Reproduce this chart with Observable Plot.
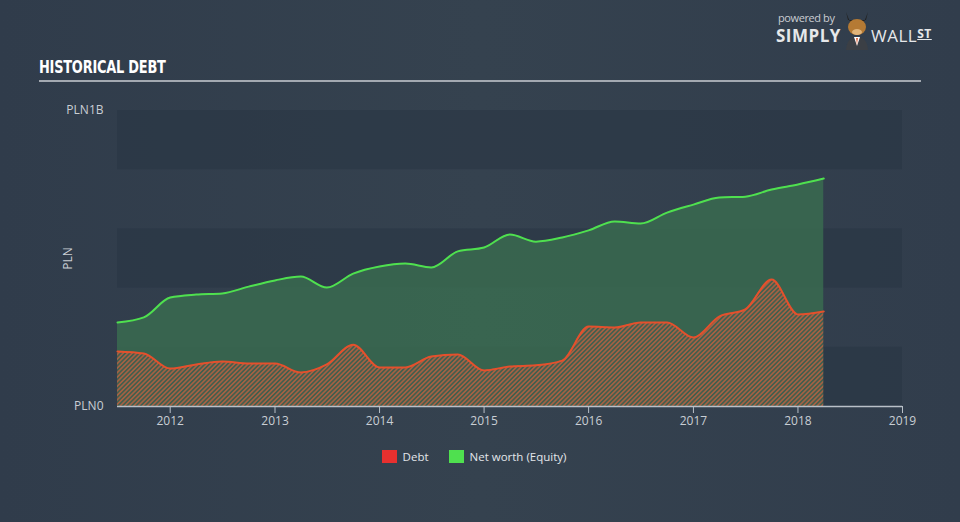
<!DOCTYPE html>
<html>
<head>
<meta charset="utf-8">
<script src="https://cdn.jsdelivr.net/npm/d3@7"></script>
<script src="https://cdn.jsdelivr.net/npm/@observablehq/plot@0.6"></script>
<style>
  html, body { margin: 0; padding: 0; }
  body {
    width: 960px; height: 522px; overflow: hidden;
    background: linear-gradient(90deg, #303c4b 0%, #35424f 50%, #313d4c 100%);
    font-family: "Open Sans", "DejaVu Sans", sans-serif;
    position: relative;
  }
  #header { position: relative; height: 95px; }
  #title {
    position: absolute; left: 39px; top: 56px;
    font-family: "Liberation Sans Narrow", "DejaVu Sans Condensed", sans-serif;
    font-weight: bold; font-size: 18px; color: #ffffff; letter-spacing: -0.3px;
    transform: scaleX(0.8); transform-origin: left;
  }
  #rule { position: absolute; left: 39px; top: 80px; width: 882px; height: 2px; background: #a3a9b1; }
  #logo { position: absolute; left: 776px; top: 10px; color: #e6e8ea; }
  #logo .pb { position: absolute; left: 2px; top: 0px; font-size: 11px; color: #c9cdd2; letter-spacing: -0.4px; white-space: nowrap; }
  #logo .simply { position: absolute; left: 0px; top: 14px; font-size: 17px; font-weight: bold; letter-spacing: 0.5px; }
  #logo .wall { position: absolute; left: 95px; top: 14px; font-size: 17px; letter-spacing: 0.5px; white-space: nowrap; }
  #logo .wall span { font-size: 12px; font-weight: bold; text-decoration: underline; vertical-align: 4px; }
  #logo svg { position: absolute; left: 66px; top: 0px; }
  #chart { position: relative; }
  #legend {
    position: absolute; top: 449px; left: -6px; width: 960px;
    display: flex; justify-content: center; gap: 20px;
    font-size: 11.5px; color: #e3e6ea;
  }
  #legend .item { display: flex; align-items: center; gap: 6px; }
  #legend .sw { width: 15px; height: 13px; display: inline-block; }
</style>
</head>
<body>
<div id="header">
  <div id="logo">
    <div class="pb">powered by</div>
    <div class="simply">SIMPLY</div>
    <svg width="30" height="40" viewBox="0 0 30 40">
      <path d="M4 2 L8 12 L22 12 L26 2 L24 10 L6 10 Z" fill="#222"/>
      <ellipse cx="15" cy="17" rx="9" ry="8" fill="#b57a34"/>
      <ellipse cx="15" cy="22" rx="5" ry="3" fill="#e0b47a"/>
      <path d="M4 40 Q5 27 15 27 Q25 27 26 40 Z" fill="#3b3f45"/>
      <path d="M12 27 L15 36 L18 27 Z" fill="#fff"/>
      <path d="M14.2 28 L15 35 L15.8 28 Z" fill="#d84a1b"/>
    </svg>
    <div class="wall">WALL<span>ST</span></div>
  </div>
  <div id="title">HISTORICAL DEBT</div>
  <div id="rule"></div>
</div>
<div id="chart"></div>
<div id="legend">
  <div class="item"><span class="sw" style="background:#e8302f"></span>Debt</div>
  <div class="item"><span class="sw" style="background:#4fe04f"></span>Net worth (Equity)</div>
</div>
<script>
// ---- Data (PLN billions), quarterly ----
const dates = [
  "2011-07-01","2011-10-01","2012-01-01","2012-04-01","2012-07-01","2012-10-01",
  "2013-01-01","2013-04-01","2013-07-01","2013-10-01","2014-01-01","2014-04-01",
  "2014-07-01","2014-10-01","2015-01-01","2015-04-01","2015-07-01","2015-10-01",
  "2016-01-01","2016-04-01","2016-07-01","2016-10-01","2017-01-01","2017-04-01",
  "2017-07-01","2017-10-01","2018-01-01","2018-04-01"
];
const equity = [
  0.284, 0.301, 0.368, 0.378, 0.382, 0.405,
  0.426, 0.439, 0.402, 0.449, 0.473, 0.483,
  0.470, 0.524, 0.537, 0.581, 0.557, 0.571,
  0.595, 0.625, 0.618, 0.655, 0.682, 0.706,
  0.709, 0.733, 0.750, 0.770
];
const debt = [
  0.186, 0.179, 0.128, 0.142, 0.152, 0.145,
  0.145, 0.115, 0.142, 0.209, 0.132, 0.132,
  0.169, 0.176, 0.122, 0.135, 0.139, 0.155,
  0.270, 0.267, 0.284, 0.284, 0.233, 0.304,
  0.328, 0.429, 0.311, 0.321
];
const xStart = "2011-07-01";
const xEnd = "2019-01-01";
const yTicks = [0, 1];
const yTickLabels = ["PLN0", "PLN1B"];
const xTicks = ["2012","2013","2014","2015","2016","2017","2018","2019"];
const bands = [[0, 0.2], [0.4, 0.6], [0.8, 1.0]];

const parse = d3.utcParse("%Y-%m-%d");
const rows = dates.map((d, i) => ({date: parse(d), equity: equity[i], debt: debt[i]}));
const bandRows = bands.map(([a, b]) => ({x1: parse(xStart), x2: parse(xEnd), y1: a, y2: b}));
const tickDates = xTicks.map(t => parse(t + "-01-01"));

const defsMark = () => {
  const ns = "http://www.w3.org/2000/svg";
  const defs = document.createElementNS(ns, "defs");
  defs.innerHTML = `<pattern id="hatch" width="3.2" height="3.2" patternUnits="userSpaceOnUse" patternTransform="rotate(45)">
      <rect width="3.2" height="3.2" fill="#55574a" fill-opacity="0.4"></rect>
      <line x1="0.8" y1="0" x2="0.8" y2="3.2" stroke="#c4623f" stroke-width="1.4" stroke-opacity="0.85"></line>
    </pattern>`;
  return defs;
};

const chart = Plot.plot({
  width: 960,
  height: 345,
  marginTop: 15,
  marginLeft: 117,
  marginRight: 58,
  marginBottom: 34,
  style: {background: "transparent", color: "#c9ced4", fontSize: "12px", fontFamily: "'Open Sans', 'DejaVu Sans', sans-serif"},
  x: {type: "utc", domain: [parse(xStart), parse(xEnd)]},
  y: {domain: [0, 1]},
  marks: [
    defsMark,
    Plot.rect(bandRows, {x1: "x1", x2: "x2", y1: "y1", y2: "y2", fill: "#283444", fillOpacity: 0.55}),
    Plot.areaY(rows, {x: "date", y: "equity", fill: "#3a6b50", fillOpacity: 0.85, curve: "monotone-x"}),
    Plot.areaY(rows, {x: "date", y: "debt", fill: "url(#hatch)", curve: "monotone-x"}),
    Plot.lineY(rows, {x: "date", y: "equity", stroke: "#4fe04f", strokeWidth: 2, curve: "monotone-x"}),
    Plot.lineY(rows, {x: "date", y: "debt", stroke: "#e5502c", strokeWidth: 2, curve: "monotone-x"}),
    Plot.ruleY([0], {stroke: "#b9c0c8", strokeWidth: 1.5}),
    Plot.axisX({ticks: tickDates, tickFormat: d3.utcFormat("%Y"), tickSize: 7, tickPadding: 3, stroke: "#b9c0c8", fill: "#c9ced4", label: null}),
    Plot.axisY({ticks: yTicks, tickFormat: (d) => yTickLabels[yTicks.indexOf(d)], tickSize: 0, tickPadding: 14, fill: "#c9ced4", label: "PLN", labelArrow: "none", labelAnchor: "center", labelOffset: 54})
  ]
});
document.getElementById("chart").appendChild(chart);
</script>
</body>
</html>
